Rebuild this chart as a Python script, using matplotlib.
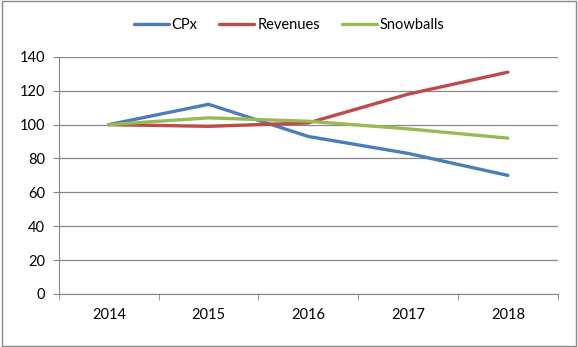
import matplotlib.pyplot as plt
import numpy as np

years = ["2014", "2015", "2016", "2017", "2018"]
cpx = [100, 112, 93, 83, 70]
revenues = [100, 99, 101, 118, 131]
snowballs = [100, 104, 102, 97.5, 92]

plt.rcParams['font.family'] = ['Lato', 'DejaVu Sans']

fig = plt.figure(figsize=(5.78, 3.47), dpi=100)
ax = fig.add_axes([0.102, 0.153, 0.863, 0.683])

x = np.arange(len(years))
ax.plot(x, cpx, color="#4A7EBB", lw=2.4, label="CPx", solid_capstyle="round")
ax.plot(x, revenues, color="#BE4B48", lw=2.4, label="Revenues", solid_capstyle="round")
ax.plot(x, snowballs, color="#98B954", lw=2.4, label="Snowballs", solid_capstyle="round")

ax.set_xlim(-0.5, 4.5)
ax.set_ylim(0, 140)
ax.set_yticks(range(0, 141, 20))
ax.set_xticks(x)
ax.set_xticklabels(years)
ax.set_xticks(np.arange(-0.5, 4.6, 1), minor=True)
ax.tick_params(axis="x", which="major", length=0, pad=10, labelsize=10.5)
ax.tick_params(axis="x", which="minor", length=4, color="#888888")
ax.tick_params(axis="y", length=4, color="#888888", labelsize=10.5, pad=6)
ax.grid(axis="y", color="#888888", lw=0.9)
ax.set_axisbelow(True)
for s in ["top", "right"]:
    ax.spines[s].set_visible(False)
for s in ["left", "bottom"]:
    ax.spines[s].set_color("#888888")

fig.legend(loc="center", bbox_to_anchor=(0.5, 0.928), ncol=3, frameon=False,
           fontsize=10.5, handlelength=2.4, handletextpad=0.2, columnspacing=1.5)

fig.add_artist(plt.Rectangle((0.003, 0.003), 0.994, 0.994, transform=fig.transFigure,
                             fill=False, edgecolor="#888888", lw=1))

fig.savefig("out.png", dpi=100)
